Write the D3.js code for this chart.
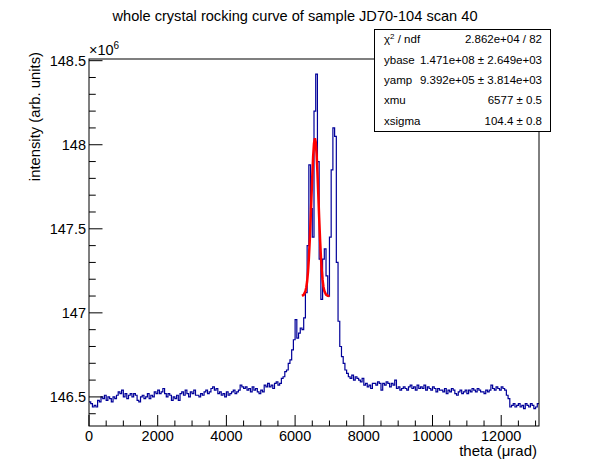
<!DOCTYPE html>
<html>
<head>
<meta charset="utf-8">
<script src="https://cdn.jsdelivr.net/npm/d3@7"></script>
<style>
  body { margin: 0; background: #fff; }
  text { font-family: "Liberation Sans", Arial, Helvetica, sans-serif; fill: #000; }
</style>
</head>
<body>
<div id="chart"></div>
<script>
// histogram: 262 bins of 50 urad from 0 to 13100, counts in units of 1e6
var binWidth = 50;
var counts = [
  146.47, 146.46, 146.44, 146.45, 146.44, 146.48, 146.47, 146.50, 146.49, 146.51,
  146.48, 146.50, 146.49, 146.47, 146.50, 146.49, 146.51, 146.53, 146.52, 146.54,
  146.50, 146.52, 146.49, 146.51, 146.52, 146.50, 146.52, 146.51, 146.48, 146.47,
  146.50, 146.51, 146.49, 146.50, 146.52, 146.49, 146.51, 146.50, 146.53, 146.52,
  146.54, 146.52, 146.53, 146.55, 146.52, 146.50, 146.52, 146.51, 146.48, 146.50,
  146.49, 146.51, 146.48, 146.52, 146.53, 146.51, 146.54, 146.52, 146.50, 146.53,
  146.52, 146.54, 146.51, 146.51, 146.50, 146.52, 146.51, 146.53, 146.54, 146.52,
  146.53, 146.55, 146.56, 146.54, 146.55, 146.52, 146.53, 146.51, 146.52, 146.50,
  146.53, 146.51, 146.52, 146.53, 146.54, 146.52, 146.53, 146.54, 146.57, 146.56,
  146.55, 146.56, 146.54, 146.55, 146.53, 146.56, 146.54, 146.55, 146.53, 146.52,
  146.54, 146.53, 146.57, 146.56, 146.58, 146.56, 146.57, 146.55, 146.58, 146.59,
  146.57, 146.58, 146.61, 146.62, 146.65, 146.66, 146.70, 146.72, 146.78, 146.84,
  146.96, 146.85, 146.88, 146.91, 146.90, 146.97, 147.12, 147.40, 147.88, 147.62,
  147.45, 148.20, 148.42, 147.90, 147.32, 147.08, 147.32, 147.38, 147.22, 147.10,
  147.45, 147.85, 148.10, 148.05, 147.30, 146.95, 146.80, 146.74, 146.70, 146.66,
  146.64, 146.62, 146.61, 146.63, 146.60, 146.62, 146.61, 146.60, 146.59, 146.61,
  146.57, 146.58, 146.56, 146.57, 146.55, 146.58, 146.58, 146.57, 146.59, 146.58,
  146.54, 146.58, 146.57, 146.59, 146.58, 146.56, 146.58, 146.57, 146.60, 146.55,
  146.56, 146.54, 146.55, 146.56, 146.55, 146.54, 146.56, 146.57, 146.55, 146.56,
  146.54, 146.57, 146.55, 146.56, 146.55, 146.57, 146.54, 146.56, 146.55, 146.54,
  146.56, 146.55, 146.53, 146.55, 146.54, 146.54, 146.53, 146.55, 146.52, 146.54,
  146.53, 146.55, 146.54, 146.52, 146.51, 146.53, 146.54, 146.52, 146.53, 146.54,
  146.52, 146.54, 146.53, 146.55, 146.54, 146.53, 146.55, 146.54, 146.53, 146.53,
  146.52, 146.54, 146.53, 146.54, 146.57, 146.55, 146.54, 146.56, 146.55, 146.54,
  146.56, 146.55, 146.54, 146.51, 146.49, 146.44, 146.45, 146.46, 146.44, 146.45,
  146.46, 146.44, 146.45, 146.43, 146.46, 146.45, 146.44, 146.46, 146.45, 146.43,
  146.44, 146.46
];

// gaussian fit curve
var fitX = [6200, 6250, 6300, 6325, 6350, 6375, 6400, 6425, 6450, 6475, 6500, 6525,
            6550, 6577, 6600, 6625, 6650, 6675, 6700, 6725, 6750, 6775, 6800, 6825,
            6850, 6900, 6950, 7000];
var fitY = [147.101, 147.107, 147.128, 147.151, 147.188, 147.244, 147.323, 147.425,
            147.548, 147.683, 147.816, 147.930, 148.008, 148.039, 148.017, 147.945,
            147.836, 147.705, 147.569, 147.444, 147.338, 147.256, 147.196, 147.156,
            147.131, 147.108, 147.102, 147.100];

var xTicks = [0, 2000, 4000, 6000, 8000, 10000, 12000];
var yTicks = [146.5, 147, 147.5, 148, 148.5];

var statLabels = ["ybase", "yamp", "xmu", "xsigma"];
var statValues = ["1.471e+08 \u00b1 2.649e+03", "9.392e+05 \u00b1 3.814e+03",
                  "6577 \u00b1 0.5", "104.4 \u00b1 0.8"];
var chiValue = "2.862e+04 / 82";

var W = 598, H = 474;
var margin = {top: 59, right: 59, bottom: 48, left: 89},
    width = W - margin.left - margin.right,
    height = H - margin.top - margin.bottom;

var x = d3.scaleLinear().domain([0, 13100]).range([0, width]);
var y = d3.scaleLinear().domain([146.327, 148.51]).range([height, 0]);

var svg = d3.select("#chart").append("svg")
    .attr("width", W)
    .attr("height", H);

var g = svg.append("g")
    .attr("transform", "translate(" + margin.left + "," + margin.top + ")");

g.append("clipPath").attr("id", "clip")
  .append("rect").attr("width", width).attr("height", height);

// histogram as step line
var pts = counts.map(function(c, i) { return [i * binWidth, c]; });
pts.push([counts.length * binWidth, counts[counts.length - 1]]);

var step = d3.line()
    .x(function(d) { return x(d[0]); })
    .y(function(d) { return y(d[1]); })
    .curve(d3.curveStepAfter);

g.append("path")
    .datum(pts)
    .attr("clip-path", "url(#clip)")
    .attr("fill", "none")
    .attr("stroke", "#000099")
    .attr("stroke-width", 1.2)
    .attr("d", step);

// fit
var fitLine = d3.line()
    .x(function(d, i) { return x(fitX[i]); })
    .y(function(d) { return y(d); });

g.append("path")
    .datum(fitY)
    .attr("fill", "none")
    .attr("stroke", "#ff0000")
    .attr("stroke-width", 2.5)
    .attr("d", fitLine);

// frame
g.append("rect")
    .attr("width", width)
    .attr("height", height)
    .attr("fill", "none")
    .attr("stroke", "#000")
    .attr("stroke-width", 1);

// x axis ticks (pointing up into the frame)
var xMinor = d3.range(0, 13100 + 1, 500);
g.selectAll(".xt").data(xMinor).enter().append("line")
    .attr("x1", function(d) { return x(d); })
    .attr("x2", function(d) { return x(d); })
    .attr("y1", height)
    .attr("y2", function(d) { return height - (d % 2000 === 0 ? 11 : 5.5); })
    .attr("stroke", "#000");

g.selectAll(".xl").data(xTicks).enter().append("text")
    .attr("x", function(d) { return x(d); })
    .attr("y", height + 14.5)
    .attr("text-anchor", "middle")
    .style("font-size", "14.5px")
    .text(function(d) { return d; });

// y axis ticks
var yMinor = d3.range(146.4, 148.55, 0.1);
g.selectAll(".yt").data(yMinor).enter().append("line")
    .attr("x1", 0)
    .attr("x2", function(d) {
      var m = Math.abs(d * 2 - Math.round(d * 2)) < 1e-6;
      return m ? 13.5 : 6.75;
    })
    .attr("y1", function(d) { return y(d); })
    .attr("y2", function(d) { return y(d); })
    .attr("stroke", "#000");

g.selectAll(".yl").data(yTicks).enter().append("text")
    .attr("x", -3)
    .attr("y", function(d) { return y(d); })
    .attr("dy", "0.36em")
    .attr("text-anchor", "end")
    .style("font-size", "14.5px")
    .text(function(d) { return d; });

// exponent
var ex = g.append("text")
    .attr("x", 0)
    .attr("y", -4)
    .style("font-size", "14.5px")
    .text("\u00d710");
ex.append("tspan").attr("dy", -6).style("font-size", "10px").text("6");

// titles
svg.append("text")
    .attr("x", 295)
    .attr("y", 21)
    .attr("text-anchor", "middle")
    .style("font-size", "14.6px")
    .text("whole crystal rocking curve of sample JD70-104 scan 40");

svg.append("text")
    .attr("x", 537)
    .attr("y", 456)
    .attr("text-anchor", "end")
    .style("font-size", "15px")
    .text("theta (\u03bcrad)");

svg.append("text")
    .attr("transform", "translate(40,52) rotate(-90)")
    .attr("text-anchor", "end")
    .style("font-size", "14.8px")
    .text("intensity (arb. units)");

// stats box
var box = {x: 374, y: 29, w: 176, h: 102};
svg.append("rect")
    .attr("x", box.x + 0.5).attr("y", box.y + 0.5)
    .attr("width", box.w).attr("height", box.h)
    .attr("fill", "#fff").attr("stroke", "#000");

var rowH = box.h / 5;
var chi = svg.append("text")
    .attr("x", box.x + 10)
    .attr("y", box.y + rowH * 0.5 + 4)
    .style("font-size", "11.5px")
    .text("\u03c7");
chi.append("tspan").attr("dy", -4).style("font-size", "8px").text("2");
chi.append("tspan").attr("dy", 4).text(" / ndf");

svg.append("text")
    .attr("x", box.x + box.w - 8)
    .attr("y", box.y + rowH * 0.5 + 4)
    .attr("text-anchor", "end")
    .style("font-size", "11.5px")
    .text(chiValue);

statLabels.forEach(function(l, i) {
  var yy = box.y + rowH * (i + 1.5) + 4;
  svg.append("text")
      .attr("x", box.x + 10).attr("y", yy)
      .style("font-size", "11.5px")
      .text(l);
  svg.append("text")
      .attr("x", box.x + box.w - 8).attr("y", yy)
      .attr("text-anchor", "end")
      .style("font-size", "11.5px")
      .text(statValues[i]);
});
</script>
</body>
</html>
